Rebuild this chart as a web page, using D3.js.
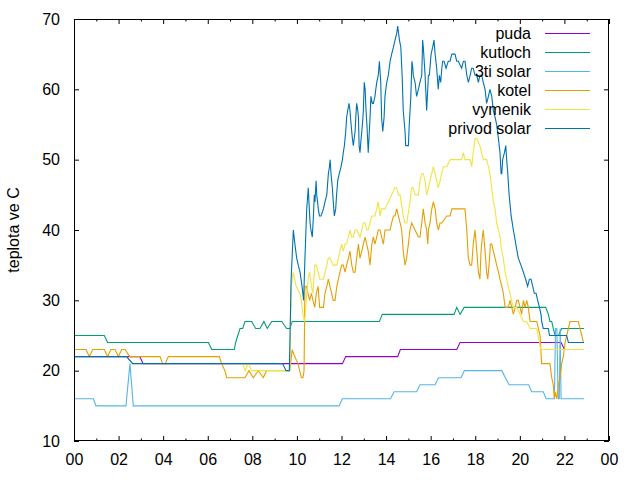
<!DOCTYPE html>
<html><head><meta charset="utf-8">
<script src="https://cdn.jsdelivr.net/npm/d3@7"></script>
<style>
body{margin:0;background:#fff;}
text{font-family:"Liberation Sans",Arial,sans-serif;}
</style>
</head><body>
<svg id="c" width="640" height="480"></svg>
<script>
// ---- data: [hour of day, temperature °C] ----
const pudaData = [[0,22],[2.95,22],[3.1,21],[12.04,21],[12.19,22],[14.52,22],[14.64,23],[17.17,23],[17.32,24],[21.85,24],[22.0,23],[22.88,23]];

const kutlochData = [[0,25],[1.36,25],[1.51,24],[6.03,24],[6.18,23],[7.19,23],[7.25,24],[7.35,25],[7.45,26],[7.57,26],[7.67,27],[7.97,27],[8.15,26],[8.34,26],[8.52,27],[8.67,26],[8.87,27],[9.32,27],[9.54,26],[9.69,26],[9.79,27],[13.7,27],[13.83,28],[17.05,28],[17.17,29],[17.32,28],[17.5,29],[21.16,29],[21.28,28],[21.35,27],[21.43,27],[21.5,26],[21.58,25],[21.73,25],[21.88,26],[22.88,26]];

const tretiSolarData = [[0,16],[0.87,16],[0.99,15],[2.33,15],[2.51,21],[2.66,15],[11.89,15],[12.04,16],[14.2,16],[14.36,17],[15.37,17],[15.52,18],[16.2,18],[16.35,19],[17.36,19],[17.51,20],[19.19,20],[19.35,19],[19.52,18],[20.4,18],[20.53,17],[21.05,17],[21.18,16],[21.55,16],[21.6,26],[21.66,26],[21.72,16],[21.77,16],[21.81,26],[21.85,16],[22.88,16]];

const kotelData = [[0,23],[0.54,23],[0.69,22],[0.84,23],[1.36,23],[1.51,22],[1.65,23],[1.84,23],[1.99,22],[2.14,23],[2.29,23],[2.5,22],[3.86,22],[3.98,21],[4.1,21],[4.23,22],[6.52,22],[6.62,21],[6.77,20],[6.85,19],[7.67,19],[7.85,20],[8.04,19],[8.27,20],[8.49,19],[8.64,20],[9.68,20],[9.79,23],[9.9,22],[10.05,21],[10.2,19],[10.27,19],[10.32,20],[10.36,32],[10.42,32],[10.5,31],[10.57,30],[10.65,31],[10.72,30],[10.8,29],[10.87,31],[10.95,32],[11.02,29],[11.19,29],[11.26,31],[11.34,32],[11.41,33],[11.48,32],[11.56,31],[11.63,30],[11.71,30],[11.79,32],[11.86,33],[11.93,34],[12.01,35],[12.08,35],[12.16,34],[12.23,35],[12.31,36],[12.38,37],[12.46,35],[12.53,34],[12.61,34],[12.68,36],[12.76,38],[12.83,36],[12.91,37],[12.98,38],[13.06,39],[13.13,38],[13.2,37],[13.28,35],[13.36,38],[13.43,39],[13.5,38],[13.58,39],[13.65,40],[13.73,40],[13.8,39],[13.88,38],[13.95,40],[14.1,40],[14.18,40],[14.25,41],[14.33,42],[14.4,42],[14.48,43],[14.55,42],[14.63,41],[14.7,40],[14.77,37],[14.85,35],[14.92,36],[15.0,38],[15.07,40],[15.15,41],[15.3,40],[15.45,39],[15.52,39],[15.6,41],[15.67,43],[15.75,41],[15.82,40],[15.87,38],[15.9,40],[15.97,41],[16.05,43],[16.12,44],[16.2,43],[16.27,41],[16.35,40],[16.42,41],[16.5,41],[16.72,42],[16.87,42],[16.95,43],[17.54,43],[17.62,40],[17.69,36],[17.77,35],[17.84,35],[17.91,38],[17.99,40],[18.07,37],[18.14,34],[18.21,33],[18.26,37],[18.32,39],[18.36,40],[18.44,37],[18.51,34],[18.56,33],[18.62,35],[18.68,38],[18.74,38],[18.81,37],[18.89,36],[18.96,35],[19.04,34],[19.11,33],[19.19,32],[19.26,31],[19.34,29],[19.48,29],[19.56,30],[19.64,29],[19.71,28],[19.79,29],[19.86,30],[19.93,30],[20.01,29],[20.08,28],[20.16,30],[20.23,29],[20.31,30],[20.38,29],[20.46,27],[20.76,27],[20.83,26],[20.91,25],[20.94,23],[20.98,21],[21.28,21],[21.35,21],[21.43,19],[21.5,18],[21.55,16],[21.58,17],[21.66,16],[21.73,18],[21.8,19],[21.88,21],[21.95,22],[22.03,24],[22.1,25],[22.18,26],[22.25,27],[22.62,27],[22.7,26],[22.78,25],[22.85,24],[22.88,24]];

const vymenikData = [[0,22],[2.36,22],[2.63,21],[7.57,21],[7.67,20],[7.82,21],[7.97,20],[9.68,20],[9.75,32],[9.83,34],[9.9,33],[9.97,32],[10.13,31],[10.2,30],[10.27,28],[10.35,27],[10.42,30],[10.5,33],[10.57,34],[10.65,32],[10.72,31],[10.8,35],[10.87,35],[10.95,34],[11.02,33],[11.1,33],[11.19,33],[11.34,35],[11.41,36],[11.48,36],[11.63,35],[11.71,35],[11.79,35],[11.93,37],[12.01,38],[12.08,37],[12.16,38],[12.23,38],[12.31,39],[12.38,40],[12.46,39],[12.53,39],[12.61,40],[12.68,40],[12.83,39],[12.91,40],[12.98,41],[13.06,41],[13.13,40],[13.2,40],[13.28,41],[13.36,42],[13.5,42],[13.58,43],[13.65,44],[13.73,42],[13.8,43],[13.95,43],[14.1,44],[14.25,45],[14.4,46],[14.48,46],[14.55,45],[14.63,45],[14.77,42],[14.85,41],[14.93,41],[15.07,44],[15.15,46],[15.22,46],[15.3,45],[15.45,45],[15.52,47],[15.6,48],[15.67,48],[15.75,47],[15.82,45],[15.9,46],[15.97,47],[16.12,49],[16.2,48],[16.27,47],[16.34,46],[16.42,47],[16.57,49],[16.72,49],[16.87,50],[17.32,50],[17.39,50],[17.47,51],[17.54,50],[17.62,50],[17.77,50],[17.84,49],[17.91,51],[17.99,53],[18.07,53],[18.21,52],[18.36,50],[18.51,50],[18.59,49],[18.66,48],[18.74,46],[18.81,44],[18.89,43],[18.96,41],[19.04,40],[19.11,39],[19.19,37],[19.26,36],[19.34,34],[19.41,33],[19.48,32],[19.56,31],[19.63,30],[19.71,29],[19.86,29],[20.01,28],[20.16,27],[20.31,27],[20.46,26],[20.61,26],[20.76,26],[20.88,24],[20.94,23],[22.88,23]];

const privodSolarData = [[0,22],[2.36,22],[2.63,21],[9.36,21],[9.51,20],[9.66,20],[9.74,33],[9.84,40],[9.91,38],[9.99,36],[10.06,35],[10.14,34],[10.23,32],[10.3,30],[10.36,36],[10.44,43],[10.51,46],[10.54,44],[10.59,41],[10.63,40],[10.69,39],[10.74,42],[10.78,45],[10.81,44],[10.86,47],[10.89,45],[10.96,43],[11.01,42],[11.08,42],[11.19,43],[11.26,44],[11.34,45],[11.41,48],[11.46,49],[11.49,50],[11.53,48],[11.59,46],[11.63,44],[11.68,42],[11.74,43],[11.78,45],[11.83,47],[11.9,48],[11.98,49],[12.04,50],[12.08,51],[12.13,52],[12.19,54],[12.23,56],[12.28,57],[12.34,58],[12.38,57],[12.43,55],[12.49,53],[12.53,52],[12.61,54],[12.64,56],[12.68,58],[12.73,57],[12.76,56],[12.79,52],[12.83,51],[12.88,53],[12.94,55],[12.98,57],[13.02,61],[13.06,60],[13.1,57],[13.14,55],[13.2,51],[13.28,56],[13.32,59],[13.38,58],[13.43,58],[13.5,59],[13.58,61],[13.65,62],[13.7,64],[13.76,61],[13.8,56],[13.85,54],[13.91,56],[13.95,59],[14.03,61],[14.1,62],[14.18,64],[14.25,65],[14.33,66],[14.4,67],[14.48,68],[14.52,69],[14.6,67],[14.66,66],[14.72,62],[14.77,57],[14.85,54],[14.88,52],[15.0,52],[15.04,55],[15.11,59],[15.16,64],[15.2,63],[15.22,62],[15.3,61],[15.37,59],[15.45,60],[15.52,61],[15.6,62],[15.64,67],[15.67,66],[15.75,62],[15.82,57],[15.9,62],[15.94,62],[16.02,65],[16.09,66],[16.15,67],[16.2,65],[16.27,63],[16.34,60],[16.39,62],[16.45,61],[16.5,63],[16.54,64],[16.6,64],[16.69,63],[16.79,64],[16.87,64],[16.95,65],[17.02,65],[17.09,65],[17.17,64],[17.24,64],[17.39,63],[17.47,64],[17.54,64],[17.62,62],[17.69,61],[17.77,62],[17.84,63],[17.91,63],[17.99,62],[18.07,62],[18.14,61],[18.21,62],[18.29,62],[18.36,61],[18.44,60],[18.51,58],[18.59,59],[18.66,60],[18.74,59],[18.81,57],[18.89,56],[18.96,55],[19.04,53],[19.11,51],[19.16,48],[19.19,48],[19.23,50],[19.31,51],[19.37,52],[19.41,50],[19.46,48],[19.52,45],[19.61,42],[19.71,40],[19.82,38],[19.93,36],[20.05,35],[20.16,34],[20.26,33],[20.35,32],[20.43,33],[20.5,33],[20.58,32],[20.65,31],[20.73,31],[20.8,30],[20.88,29],[20.95,28],[20.98,27],[21.05,26],[21.28,26],[21.33,25],[22.1,25],[22.18,24],[22.88,24]];

const seriesNames = ["puda","kutloch","3ti solar","kotel","vymenik","privod solar"];
const seriesData = [pudaData, kutlochData, tretiSolarData, kotelData, vymenikData, privodSolarData];
const seriesColors = ["#9400d3","#009e73","#56b4e9","#e69f00","#f0e442","#0072b2"];

const xTicks = [0,2,4,6,8,10,12,14,16,18,20,22,24];
const xTickLabels = ["00","02","04","06","08","10","12","14","16","18","20","22","00"];
const xMinorTicks = [1,3,5,7,9,11,13,15,17,19,21,23];
const yTicks = [10,20,30,40,50,60,70];
const yLabel = "teplota ve C";

// ---- drawing ----
const svg = d3.select("#c");
const L = 74, R = 609, T = 19, B = 441;
const x = d3.scaleLinear().domain([0,24]).range([L,R]);
const y = d3.scaleLinear().domain([10,70]).range([B,T]);

function styleAxis(g){
  g.attr("font-size",16).attr("font-family",'"Liberation Sans",Arial,sans-serif');
  g.select(".domain").remove();
  g.selectAll("line").attr("stroke","#000");
  g.selectAll("text").attr("fill","#000");
}

svg.append("g").attr("transform",`translate(0,${B})`)
  .call(d3.axisBottom(x).tickValues(xTicks).tickFormat((d,i)=>xTickLabels[i]).tickSizeInner(-5).tickSizeOuter(0).tickPadding(13))
  .call(styleAxis);
svg.append("g").attr("transform",`translate(0,${B})`)
  .call(d3.axisBottom(x).tickValues(xMinorTicks).tickFormat("").tickSizeInner(-2.5).tickSizeOuter(0))
  .call(styleAxis);
svg.append("g").attr("transform",`translate(0,${T})`)
  .call(d3.axisTop(x).tickValues(xTicks).tickFormat("").tickSizeInner(-5).tickSizeOuter(0))
  .call(styleAxis);
svg.append("g").attr("transform",`translate(0,${T})`)
  .call(d3.axisTop(x).tickValues(xMinorTicks).tickFormat("").tickSizeInner(-2.5).tickSizeOuter(0))
  .call(styleAxis);
svg.append("g").attr("transform",`translate(${L},0)`)
  .call(d3.axisLeft(y).tickValues(yTicks).tickSizeInner(-5).tickSizeOuter(0).tickPadding(14))
  .call(styleAxis);
svg.append("g").attr("transform",`translate(${R},0)`)
  .call(d3.axisRight(y).tickValues(yTicks).tickFormat("").tickSizeInner(-5).tickSizeOuter(0))
  .call(styleAxis);

// series lines
const line = d3.line().x(d=>x(d[0])).y(d=>y(d[1]));
seriesData.forEach((data,i)=>{
  svg.append("path").datum(data)
    .attr("d",line)
    .attr("fill","none")
    .attr("stroke",seriesColors[i])
    .attr("stroke-width",1.1)
    .attr("stroke-linejoin","miter");
});

// border
svg.append("rect").attr("x",L+0.5).attr("y",T+0.5).attr("width",R-L-1).attr("height",B-T-1)
  .attr("fill","none").attr("stroke","#000").attr("stroke-width",1);

// legend
const leg = svg.append("g");
seriesNames.forEach((name,i)=>{
  const yy = 33.5 + i*19;
  leg.append("text").attr("x",531).attr("y",yy).attr("dy","0.35em")
    .attr("text-anchor","end").attr("font-size",16).attr("fill","#000").text(name);
  leg.append("line").attr("x1",545).attr("x2",590).attr("y1",yy).attr("y2",yy)
    .attr("stroke",seriesColors[i]).attr("stroke-width",1.1);
});

// y label
svg.append("text").attr("transform","translate(19,230) rotate(-90)")
  .attr("text-anchor","middle").attr("font-size",16).attr("fill","#000").text(yLabel);
</script>
</body></html>
